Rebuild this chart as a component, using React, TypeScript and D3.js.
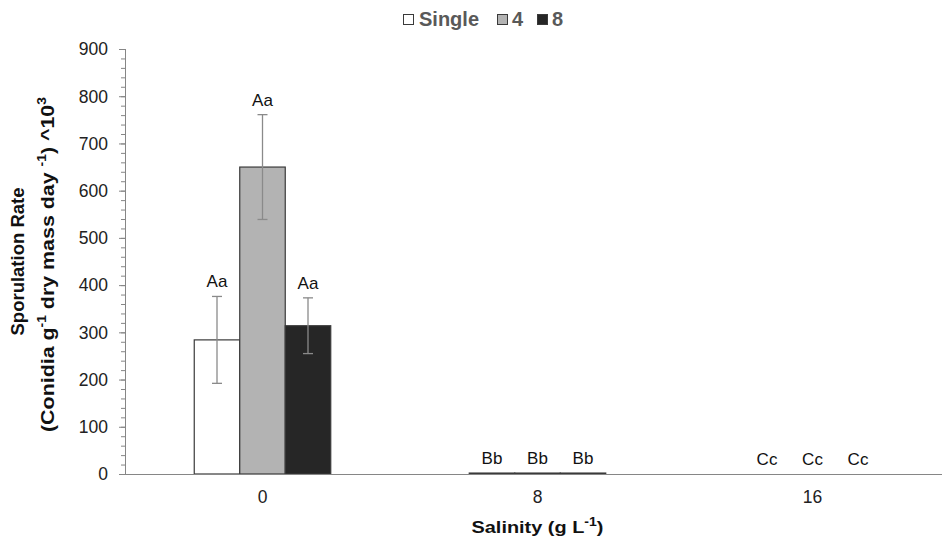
import React, { useRef, useEffect } from "react";
import * as d3 from "d3";

const salinity = ["0", "8", "16"];
const seriesNames = ["Single", "4", "8"];
const seriesFill = ["#ffffff", "#b3b3b3", "#262626"];
// mean sporulation rate per series, one value per salinity
const meanSingle = [284, 2, 0];
const mean4 = [650, 2, 0];
const mean8 = [314, 2, 0];
const errSingle = [92, 0, 0];
const err4 = [111, 0, 0];
const err8 = [59, 0, 0];
const lettersSingle = ["Aa", "Bb", "Cc"];
const letters4 = ["Aa", "Bb", "Cc"];
const letters8 = ["Aa", "Bb", "Cc"];
const yTicks = [0, 100, 200, 300, 400, 500, 600, 700, 800, 900];

function App() {
  const ref = useRef<SVGSVGElement>(null);

  useEffect(() => {
    const width = 942;
    const height = 539;
    const margin = { left: 125, top: 49, bottom: 65 };
    const svg = d3.select(ref.current);
    svg.selectAll("*").remove();

    const font = "'Liberation Sans', Arial, sans-serif";
    svg.style("font-family", font);

    const x = d3
      .scaleBand()
      .domain(salinity)
      .range([margin.left, margin.left + 825]);
    const inner = d3.scaleBand().domain(seriesNames).range([0, 136.5]);
    const y = d3
      .scaleLinear()
      .domain([0, 900])
      .range([height - margin.bottom, margin.top]);

    const means = [meanSingle, mean4, mean8];
    const errs = [errSingle, err4, err8];
    const letters = [lettersSingle, letters4, letters8];

    const rows = seriesNames.flatMap((s, si) =>
      salinity.map((c, ci) => ({
        s,
        si,
        c,
        v: means[si][ci],
        e: errs[si][ci],
        l: letters[si][ci],
      }))
    );
    const groupOffset = (x.bandwidth() - inner.range()[1]) / 2;
    const bx = (d: any) => x(d.c)! + groupOffset + inner(d.s)!;
    const cx = (d: any) => bx(d) + inner.bandwidth() / 2;

    // y axis with minor ticks
    const yAxisG = svg.append("g").attr("transform", `translate(${margin.left},0)`);
    yAxisG
      .selectAll("line.minor")
      .data(d3.range(0, 901, 20))
      .enter()
      .append("line")
      .attr("x1", -4)
      .attr("x2", 0)
      .attr("y1", (d) => y(d) + 0.5)
      .attr("y2", (d) => y(d) + 0.5)
      .attr("stroke", "#868686");
    yAxisG
      .selectAll("line.major")
      .data(yTicks)
      .enter()
      .append("line")
      .attr("x1", -6)
      .attr("x2", 0)
      .attr("y1", (d) => y(d) + 0.5)
      .attr("y2", (d) => y(d) + 0.5)
      .attr("stroke", "#868686");
    yAxisG
      .append("line")
      .attr("x1", 0.5)
      .attr("x2", 0.5)
      .attr("y1", y(900))
      .attr("y2", y(0) + 1)
      .attr("stroke", "#868686");
    yAxisG
      .selectAll("text")
      .data(yTicks)
      .enter()
      .append("text")
      .attr("x", -17)
      .attr("y", (d) => y(d))
      .attr("dy", "0.36em")
      .attr("text-anchor", "end")
      .attr("font-size", 17.5)
      .attr("fill", "#222")
      .text((d) => d);

    // bars
    svg
      .selectAll("rect.bar")
      .data(rows)
      .enter()
      .append("rect")
      .attr("x", (d) => bx(d))
      .attr("y", (d) => y(d.v))
      .attr("width", inner.bandwidth())
      .attr("height", (d) => y(0) - y(d.v))
      .attr("fill", (d) => seriesFill[d.si])
      .attr("stroke", "#3a3a3a")
      .attr("stroke-width", 1.2);

    // x axis line
    svg
      .append("line")
      .attr("x1", margin.left)
      .attr("x2", width)
      .attr("y1", y(0) + 0.5)
      .attr("y2", y(0) + 0.5)
      .attr("stroke", "#868686")
      .attr("stroke-width", 1.2);

    // error bars
    const eg = svg
      .selectAll("g.err")
      .data(rows.filter((d) => d.e > 0))
      .enter()
      .append("g")
      .attr("stroke", "#8a8a8a")
      .attr("stroke-width", 1.3);
    eg.append("line")
      .attr("x1", cx)
      .attr("x2", cx)
      .attr("y1", (d) => y(d.v + d.e))
      .attr("y2", (d) => y(d.v - d.e));
    [1, -1].forEach((sign) => {
      eg.append("line")
        .attr("x1", (d) => cx(d) - 5)
        .attr("x2", (d) => cx(d) + 5)
        .attr("y1", (d) => y(d.v + sign * d.e))
        .attr("y2", (d) => y(d.v + sign * d.e));
    });

    // letters
    svg
      .selectAll("text.letter")
      .data(rows)
      .enter()
      .append("text")
      .attr("x", cx)
      .attr("y", (d) => y(d.v + d.e) - 9)
      .attr("text-anchor", "middle")
      .attr("font-size", 17)
      .attr("fill", "#111")
      .text((d) => d.l);

    // x tick labels
    svg
      .selectAll("text.xt")
      .data(salinity)
      .enter()
      .append("text")
      .attr("x", (d) => x(d)! + x.bandwidth() / 2)
      .attr("y", y(0) + 29)
      .attr("text-anchor", "middle")
      .attr("font-size", 17.5)
      .attr("fill", "#222")
      .text((d) => d);

    // x title
    const xt = svg
      .append("text")
      .attr("x", x("8")! + x.bandwidth() / 2)
      .attr("y", 533)
      .attr("text-anchor", "middle")
      .attr("font-size", 17)
      .attr("font-weight", "bold")
      .attr("fill", "#111")
      .attr("textLength", 132)
      .attr("lengthAdjust", "spacingAndGlyphs");
    xt.append("tspan").text("Salinity  (g L");
    xt.append("tspan").attr("dy", -7).attr("font-size", 12).text("-1");
    xt.append("tspan").attr("dy", 7).text(")");

    // y title
    const yt = svg
      .append("g")
      .attr("transform", `translate(0,${y(450)}) rotate(-90)`)
      .attr("font-weight", "bold")
      .attr("fill", "#111");
    yt.append("text")
      .attr("x", 0)
      .attr("y", 24)
      .attr("text-anchor", "middle")
      .attr("font-size", 18.5)
      .text("Sporulation Rate");
    const l2 = yt
      .append("text")
      .attr("x", -3)
      .attr("y", 54)
      .attr("text-anchor", "middle")
      .attr("font-size", 18.5)
      .attr("textLength", 335)
      .attr("lengthAdjust", "spacingAndGlyphs");
    l2.append("tspan").text("(Conidia g");
    l2.append("tspan").attr("dy", -8).attr("font-size", 12).text("-1");
    l2.append("tspan").attr("dy", 8).text(" dry mass day ");
    l2.append("tspan").attr("dy", -8).attr("font-size", 12).text("-1");
    l2.append("tspan").attr("dy", 8).text(") ^10");
    l2.append("tspan").attr("dy", -8).attr("font-size", 12).text("3");

    // legend
    const legX = [403, 497, 537];
    const lg = svg
      .selectAll("g.leg")
      .data(seriesNames)
      .enter()
      .append("g")
      .attr("transform", (d, i) => `translate(${legX[i]},14)`);
    lg.append("rect")
      .attr("x", 0.5)
      .attr("y", 0.5)
      .attr("width", 10)
      .attr("height", 10)
      .attr("fill", (d, i) => seriesFill[i])
      .attr("stroke", "#3a3a3a");
    lg.append("text")
      .attr("x", (d, i) => (i === 0 ? 16 : 15))
      .attr("y", 12)
      .attr("font-size", 20)
      .attr("font-weight", "bold")
      .attr("fill", "#595959")
      .text((d) => d);
  }, []);

  return (
    <svg
      ref={ref}
      width={942}
      height={539}
      style={{ position: "absolute", left: 0, top: 0, background: "#fff" }}
    />
  );
}

export default App;
